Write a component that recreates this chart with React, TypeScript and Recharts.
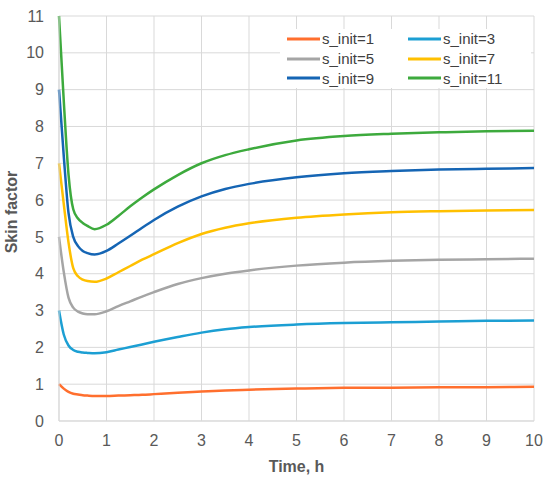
import { LineChart, Line, XAxis, YAxis, CartesianGrid, Legend, Label } from 'recharts';

const time = [0, 0.1, 0.2, 0.3, 0.4, 0.5, 0.6, 0.75, 1, 1.25, 1.5, 1.75, 2, 2.5, 3, 3.5, 4, 5, 6, 7, 8, 9, 10];

const s1 = [1, 0.88, 0.79, 0.74, 0.72, 0.7, 0.69, 0.68, 0.68, 0.69, 0.7, 0.71, 0.73, 0.77, 0.8, 0.83, 0.85, 0.88, 0.9, 0.905, 0.915, 0.92, 0.93];
const s3 = [3, 2.35, 2.05, 1.93, 1.88, 1.86, 1.85, 1.84, 1.87, 1.94, 2.01, 2.08, 2.15, 2.28, 2.4, 2.49, 2.55, 2.62, 2.66, 2.68, 2.7, 2.72, 2.73];
const s5 = [5, 4.05, 3.35, 3.08, 2.97, 2.92, 2.9, 2.9, 2.98, 3.12, 3.25, 3.38, 3.5, 3.72, 3.88, 4.0, 4.09, 4.22, 4.3, 4.35, 4.38, 4.39, 4.41];
const s7 = [7, 5.9, 4.85, 4.15, 3.93, 3.84, 3.8, 3.78, 3.87, 4.04, 4.21, 4.38, 4.53, 4.83, 5.08, 5.25, 5.37, 5.52, 5.61, 5.67, 5.7, 5.72, 5.73];
const s9 = [9, 7.2, 5.65, 5.0, 4.75, 4.62, 4.56, 4.52, 4.62, 4.82, 5.03, 5.25, 5.46, 5.82, 6.1, 6.3, 6.44, 6.62, 6.73, 6.79, 6.83, 6.85, 6.87];
const s11 = [11, 8.7, 6.7, 5.75, 5.5, 5.38, 5.3, 5.21, 5.33, 5.57, 5.83, 6.07, 6.29, 6.68, 7.0, 7.22, 7.38, 7.62, 7.74, 7.8, 7.84, 7.87, 7.88];

const xTicks = [0, 1, 2, 3, 4, 5, 6, 7, 8, 9, 10];
const yTicks = [0, 1, 2, 3, 4, 5, 6, 7, 8, 9, 10, 11];

const series = [
  { key: 's1', name: 's_init=1', values: s1, color: '#FF6F2E' },
  { key: 's3', name: 's_init=3', values: s3, color: '#1C9FD3' },
  { key: 's5', name: 's_init=5', values: s5, color: '#A5A5A5' },
  { key: 's7', name: 's_init=7', values: s7, color: '#FFC000' },
  { key: 's9', name: 's_init=9', values: s9, color: '#1565B4' },
  { key: 's11', name: 's_init=11', values: s11, color: '#3DAA3D' },
];

const data = time.map((t, i) => {
  const row: Record<string, number> = { t };
  series.forEach(s => { row[s.key] = s.values[i]; });
  return row;
});

const FONT = '"Liberation Sans", Arial, sans-serif';
const tickStyle = { fill: '#595959', fontSize: 16, fontFamily: FONT };

// legend keeps the series order (Recharts would sort by name otherwise)
function LegendBox() {
  return (
    <div style={{ display: 'grid', gridTemplateColumns: '121px 121px', paddingLeft: 7, fontFamily: FONT, fontSize: 15, color: '#404040' }}>
      {series.map(s => (
        <div key={s.key} style={{ display: 'flex', alignItems: 'center', height: 19.7 }}>
          <svg width={33} height={4} style={{ marginRight: 2 }}>
            <line x1={0} y1={2} x2={33} y2={2} stroke={s.color} strokeWidth={3} />
          </svg>
          <span>{s.name}</span>
        </div>
      ))}
    </div>
  );
}

function YTitle() {
  return (
    <text
      x={17}
      y={212}
      transform="rotate(-90 17 212)"
      textAnchor="middle"
      fill="#595959"
      fontSize={16}
      fontWeight="bold"
      fontFamily={FONT}
    >
      Skin factor
    </text>
  );
}

export default function App() {
  return (
    <div style={{ position: 'absolute', left: 0, top: 0, background: '#fff' }}>
      <LineChart width={550} height={478} data={data} margin={{ top: 16, right: 16, bottom: 0, left: 0 }}>
        <CartesianGrid stroke="#d9d9d9" strokeWidth={1} />
        <XAxis
          dataKey="t"
          type="number"
          domain={[0, 10]}
          ticks={xTicks}
          height={57}
          tick={tickStyle}
          tickLine={false}
          tickSize={0}
          tickMargin={14}
          axisLine={{ stroke: '#d9d9d9' }}
        >
          <Label value="Time, h" position="insideBottom" offset={6} fill="#595959" fontSize={16} fontWeight="bold" fontFamily={FONT} />
        </XAxis>
        <YAxis
          type="number"
          domain={[0, 11]}
          ticks={yTicks}
          width={59}
          tick={tickStyle}
          tickLine={false}
          tickSize={0}
          tickMargin={15}
          axisLine={{ stroke: '#d9d9d9' }}
        >
          <Label content={() => <YTitle />} />
        </YAxis>
        <Legend
          layout="horizontal"
          verticalAlign="middle"
          align="center"
          content={<LegendBox />}
          wrapperStyle={{ position: 'absolute', left: 280, top: 29, width: 251, height: 59, background: '#fff' }}
        />
        {series.map(s => (
          <Line
            key={s.key}
            type="monotone"
            dataKey={s.key}
            name={s.name}
            stroke={s.color}
            strokeWidth={2.5}
            dot={false}
            isAnimationActive={false}
          />
        ))}
      </LineChart>
    </div>
  );
}
